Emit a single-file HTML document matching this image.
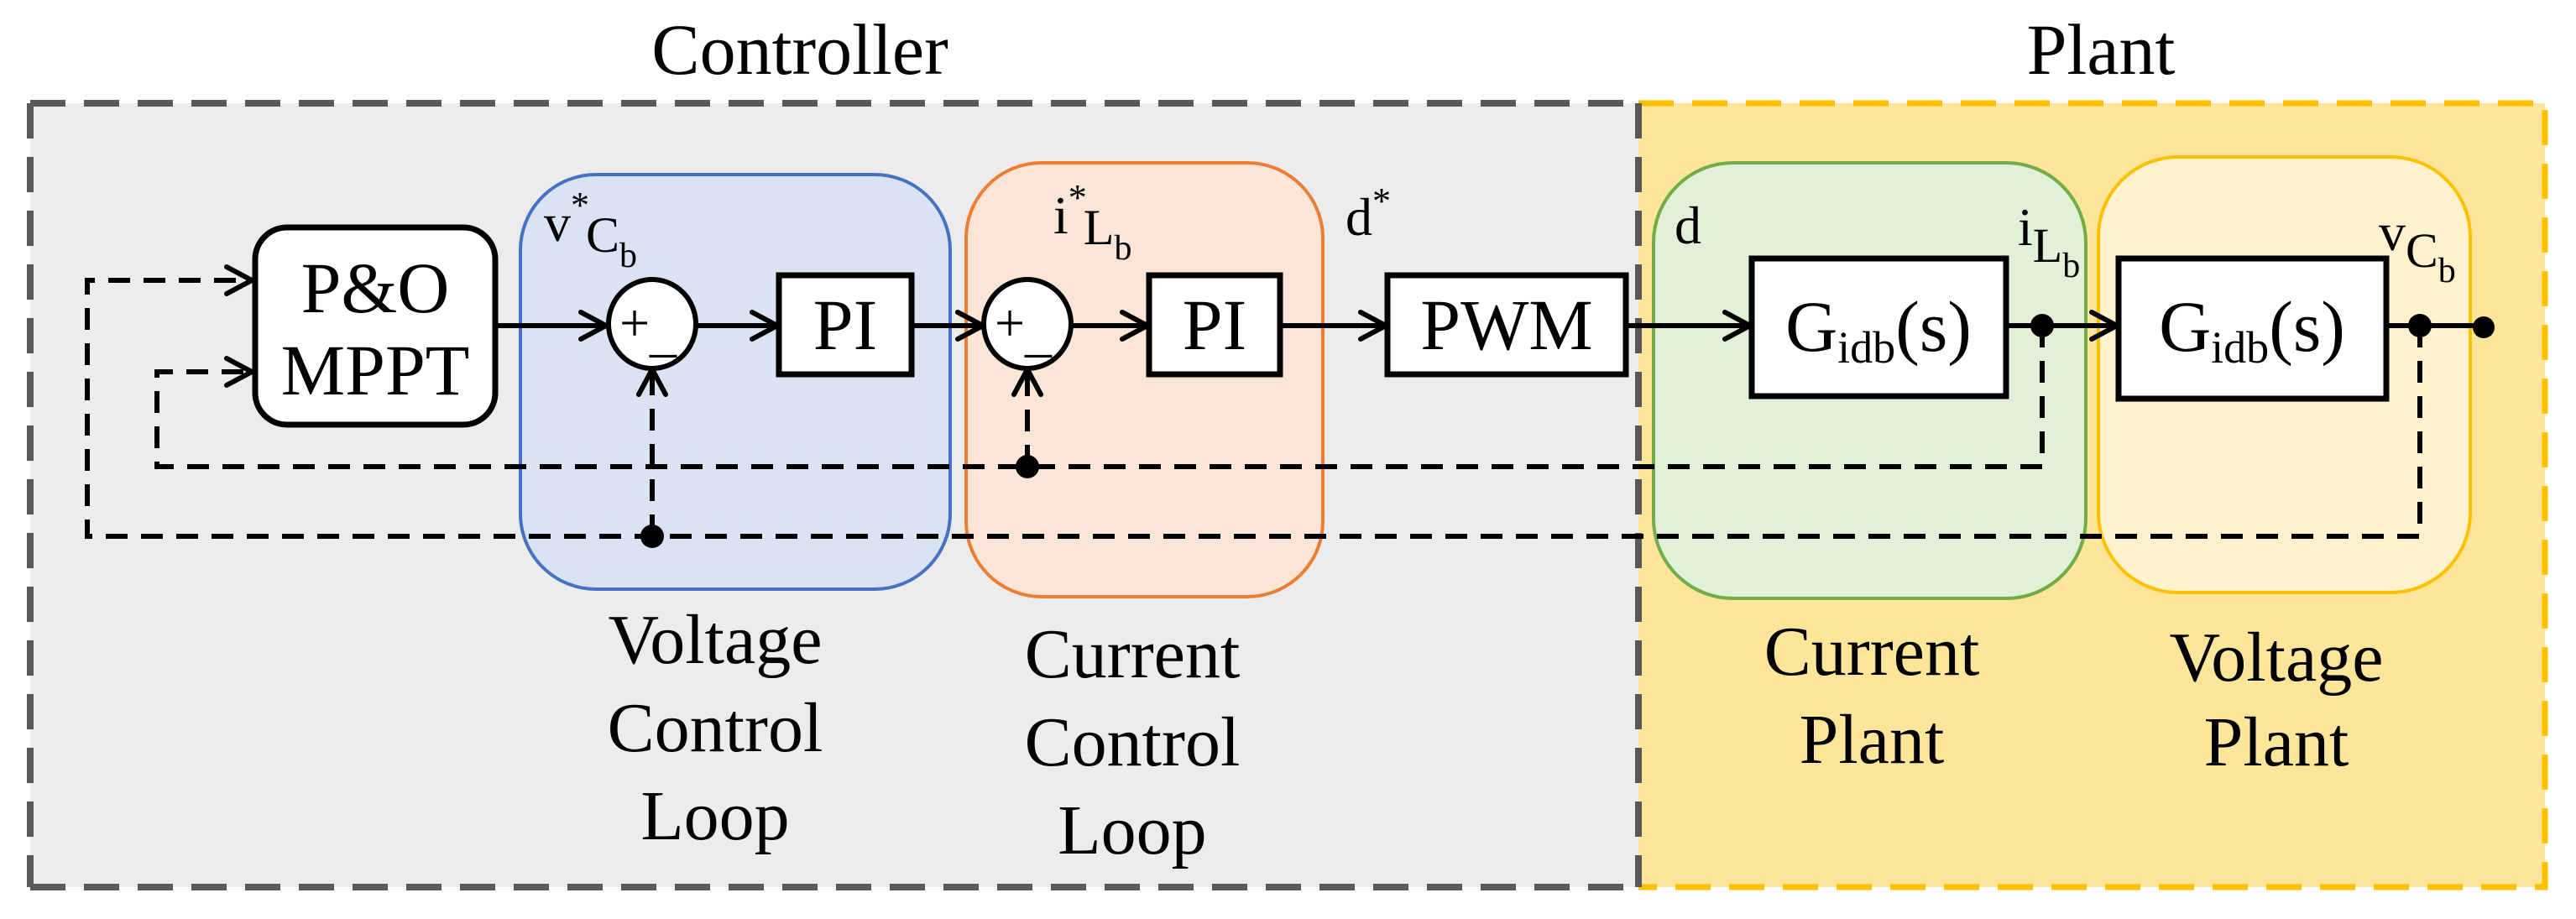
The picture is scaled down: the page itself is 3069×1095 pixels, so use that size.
<!DOCTYPE html>
<html><head><meta charset="utf-8"><style>
html,body{margin:0;padding:0;background:#fff;}
svg{display:block;}
svg text{font-family:"Liberation Serif","Times New Roman","DejaVu Serif",serif;fill:#000;}
</style></head><body>
<svg width="3069" height="1095" viewBox="0 0 3069 1095" xmlns="http://www.w3.org/2000/svg" font-family="Liberation Serif, Times New Roman, serif">
<defs>
<marker id="ar2" viewBox="0 0 40 40" refX="36" refY="20" markerWidth="40" markerHeight="40" markerUnits="userSpaceOnUse" orient="auto">
<polyline points="6,4 36,20 6,36" fill="none" stroke="#000" stroke-width="6" stroke-linecap="round" stroke-linejoin="round"/>
</marker>
</defs>
<rect x="36" y="123" width="1916" height="934" fill="#ececec"/>
<rect x="1952" y="123" width="1080" height="934" fill="#fde59a"/>
<path d="M36 123 H1952 M36 1057 H1952 M36 123 V1057" fill="none" stroke="#595959" stroke-width="8" stroke-dasharray="42 22"/>
<path d="M1952 123 H3032 V1057 H1952" fill="none" stroke="#ffc000" stroke-width="7" stroke-dasharray="42 22"/>
<path d="M1952 123 V1057" fill="none" stroke="#595959" stroke-width="8" stroke-dasharray="42 22"/>
<text x="953" y="88" font-size="86" text-anchor="middle">Controller</text>
<text x="2503" y="88" font-size="86" text-anchor="middle">Plant</text>
<rect x="620" y="208" width="512" height="494" rx="90" fill="#dae3f3" stroke="#4472c4" stroke-width="4"/>
<rect x="1151" y="194" width="425" height="517" rx="90" fill="#fbe5d6" stroke="#ed7d31" stroke-width="4"/>
<rect x="1970" y="194" width="515" height="519" rx="95" fill="#e2f0d9" stroke="#70ad47" stroke-width="4"/>
<rect x="2500" y="187" width="443" height="519" rx="95" fill="#fff2cc" stroke="#ffc000" stroke-width="4"/>
<g fill="none" stroke="#000" stroke-width="6" stroke-dasharray="26 16">
<path d="M2433 388 V556 H187 V443 H300" marker-end="url(#ar2)"/>
<path d="M2883 388 V639 H104 V334 H300" marker-end="url(#ar2)"/>
<path d="M1224 556 V440" marker-end="url(#ar2)"/>
<path d="M777 639 V440" marker-end="url(#ar2)"/>
</g>
<g fill="none" stroke="#000" stroke-width="6">
<path d="M590 388 H722" marker-end="url(#ar2)"/>
<path d="M830 388 H926" marker-end="url(#ar2)"/>
<path d="M1086 388 H1171" marker-end="url(#ar2)"/>
<path d="M1277 388 H1367" marker-end="url(#ar2)"/>
<path d="M1525 388 H1651" marker-end="url(#ar2)"/>
<path d="M1937 388 H2085" marker-end="url(#ar2)"/>
<path d="M2390 388 H2522" marker-end="url(#ar2)"/>
<path d="M2843 388 H2959"/>
</g>
<circle cx="2433" cy="388" r="14"/>
<circle cx="2883" cy="388" r="14"/>
<circle cx="2959" cy="390" r="13"/>
<circle cx="1224" cy="556" r="14"/>
<circle cx="777" cy="639" r="14"/>
<rect x="304" y="271" width="286" height="235" rx="38" fill="#fff" stroke="#000" stroke-width="7"/>
<text x="447" y="372" font-size="86" text-anchor="middle">P&amp;O</text>
<text x="447" y="470" font-size="86" text-anchor="middle">MPPT</text>
<ellipse cx="777" cy="386" rx="52" ry="53" fill="#fff" stroke="#000" stroke-width="6"/>
<text x="756" y="406" font-size="64" text-anchor="middle">+</text>
<text x="790" y="418" font-size="64" text-anchor="middle">_</text>
<ellipse cx="1224" cy="386" rx="52" ry="53" fill="#fff" stroke="#000" stroke-width="6"/>
<text x="1203" y="406" font-size="64" text-anchor="middle">+</text>
<text x="1237" y="418" font-size="64" text-anchor="middle">_</text>
<rect x="928" y="328" width="158" height="118" fill="#fff" stroke="#000" stroke-width="7"/>
<text x="1007" y="416" font-size="86" text-anchor="middle">PI</text>
<rect x="1369" y="328" width="156" height="118" fill="#fff" stroke="#000" stroke-width="7"/>
<text x="1447" y="416" font-size="86" text-anchor="middle">PI</text>
<rect x="1653" y="328" width="284" height="118" fill="#fff" stroke="#000" stroke-width="7"/>
<text x="1795" y="416" font-size="86" text-anchor="middle">PWM</text>
<rect x="2087" y="308" width="303" height="164" fill="#fff" stroke="#000" stroke-width="7"/>
<text x="2238" y="418" font-size="86" text-anchor="middle">G<tspan font-size="54" dy="14">idb</tspan><tspan dy="-14">(s)</tspan></text>
<rect x="2524" y="308" width="319" height="167" fill="#fff" stroke="#000" stroke-width="7"/>
<text x="2683" y="418" font-size="86" text-anchor="middle">G<tspan font-size="54" dy="14">idb</tspan><tspan dy="-14">(s)</tspan></text>
<text x="648" y="287" font-size="64">v<tspan font-size="44" dy="-28">*</tspan><tspan font-size="60" dx="-4" dy="41">C</tspan><tspan font-size="42" dy="18">b</tspan></text>
<text x="1255" y="278" font-size="64">i<tspan font-size="44" dy="-28">*</tspan><tspan font-size="60" dx="-4" dy="41">L</tspan><tspan font-size="42" dy="18">b</tspan></text>
<text x="1603" y="280" font-size="64">d<tspan font-size="44" dy="-26">*</tspan></text>
<text x="1995" y="290" font-size="64">d</text>
<text x="2404" y="292" font-size="64">i<tspan font-size="58" dy="20">L</tspan><tspan font-size="42" dy="18">b</tspan></text>
<text x="2834" y="298" font-size="64">v<tspan font-size="58" dy="20">C</tspan><tspan font-size="42" dy="18">b</tspan></text>
<g font-size="84" text-anchor="middle">
<text x="852" y="790">Voltage</text>
<text x="852" y="895">Control</text>
<text x="852" y="1000">Loop</text>
<text x="1349" y="807">Current</text>
<text x="1349" y="912">Control</text>
<text x="1349" y="1017">Loop</text>
<text x="2230" y="804">Current</text>
<text x="2230" y="909">Plant</text>
<text x="2712" y="811">Voltage</text>
<text x="2712" y="912">Plant</text>
</g>
</svg>
</body></html>
